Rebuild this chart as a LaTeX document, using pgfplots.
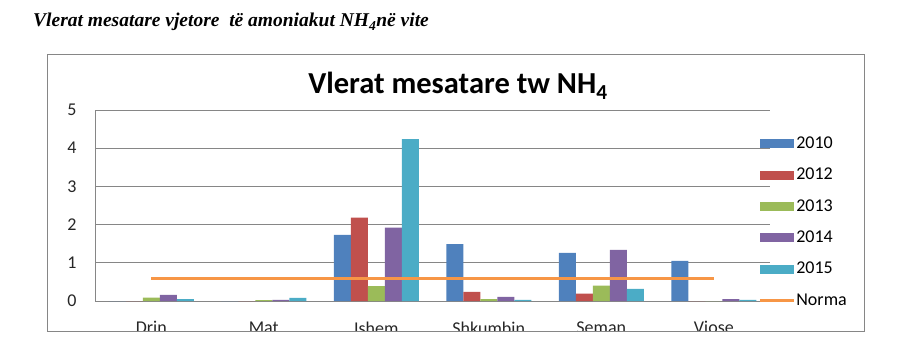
\documentclass[border=0pt]{standalone}
\usepackage{pgfplots}
\pgfplotsset{compat=1.18}
\usepackage{fontspec}
\setmainfont{Carlito}
\newfontfamily\timesfont{Liberation Serif}
\definecolor{c2010}{HTML}{4F81BD}
\definecolor{c2012}{HTML}{C0504D}
\definecolor{c2013}{HTML}{9BBB59}
\definecolor{c2014}{HTML}{8064A2}
\definecolor{c2015}{HTML}{4BACC6}
\definecolor{cnorma}{HTML}{F79646}
\definecolor{gridc}{HTML}{868686}
\pgfplotsset{barleg/.style={legend image code/.code={\fill[##1,draw=none] (0pt,-4.5pt) rectangle (34pt,4.5pt);}},
  lineleg/.style={legend image code/.code={\draw[##1] (0pt,0pt) -- (34pt,0pt);}}}
\begin{document}
\begin{tikzpicture}
\path[use as bounding box] (0,0) rectangle (912pt,356pt);
\begin{axis}[
  at={(95pt,55pt)}, anchor=south west,
  scale only axis, width=675pt, height=191pt,
  xmin=-0.5, xmax=5.5, ymin=0, ymax=5,
  ytick={0,1,2,3,4,5}, xtick={0,1,2,3,4,5},
  xticklabels={Drin,Mat,Ishem,Shkumbin,Seman,Vjose},
  axis x line*=bottom, axis y line*=left,
  axis line style={draw=gridc, line width=0.8pt},
  ymajorgrids, grid style={draw=gridc, line width=0.8pt},
  major tick length=0pt,
  /pgf/number format/assume math mode=true,
  ticklabel style={font=\fontsize{18}{21}\selectfont, text=black!85},
  yticklabel style={anchor=east, xshift=-15pt},
  xticklabel style={anchor=north, yshift=-17pt},
  legend style={at={(0.978,0.874)}, anchor=north west, draw=none, fill=none,
    font=\fontsize{18}{21}\selectfont,
    nodes={inner sep=0pt, text height=12pt, text depth=3pt, anchor=west},
    row sep=16.4pt, column sep=1pt},
  legend cell align=left,
]
\addplot[ybar, bar width=17pt, bar shift=-34pt, fill=c2010, draw=none, barleg] coordinates {(0,0) (1,0) (2,1.73) (3,1.49) (4,1.26) (5,1.05)};
\addlegendentry{2010}
\addplot[ybar, bar width=17pt, bar shift=-17pt, fill=c2012, draw=none, barleg] coordinates {(0,0) (1,0) (2,2.18) (3,0.24) (4,0.19) (5,0)};
\addlegendentry{2012}
\addplot[ybar, bar width=17pt, bar shift=0pt, fill=c2013, draw=none, barleg] coordinates {(0,0.09) (1,0.02) (2,0.39) (3,0.05) (4,0.40) (5,0)};
\addlegendentry{2013}
\addplot[ybar, bar width=17pt, bar shift=17pt, fill=c2014, draw=none, barleg] coordinates {(0,0.16) (1,0.03) (2,1.92) (3,0.11) (4,1.34) (5,0.05)};
\addlegendentry{2014}
\addplot[ybar, bar width=17pt, bar shift=34pt, fill=c2015, draw=none, barleg] coordinates {(0,0.05) (1,0.08) (2,4.24) (3,0.03) (4,0.32) (5,0.03)};
\addlegendentry{2015}
\addplot[cnorma, line width=3pt, mark=none, lineleg] coordinates {(0,0.6) (5,0.6)};
\addlegendentry{Norma}
\end{axis}
\fill[white] (0,0) rectangle (912pt,24.5pt);
\draw[gridc, line width=0.9pt] (47pt,25pt) rectangle (864pt,302pt);
\node[anchor=base, inner sep=0pt] at (458pt,262pt) {\fontsize{30.5}{36}\selectfont\bfseries Vlerat mesatare tw NH\textsubscript{4}};
\node[anchor=base west, inner sep=0pt] at (33pt,329pt) {\timesfont\bfseries\itshape\fontsize{19.5}{23}\selectfont Vlerat mesatare vjetore\ \ të amoniakut NH\textsubscript{4}në vite};
\end{tikzpicture}
\end{document}
